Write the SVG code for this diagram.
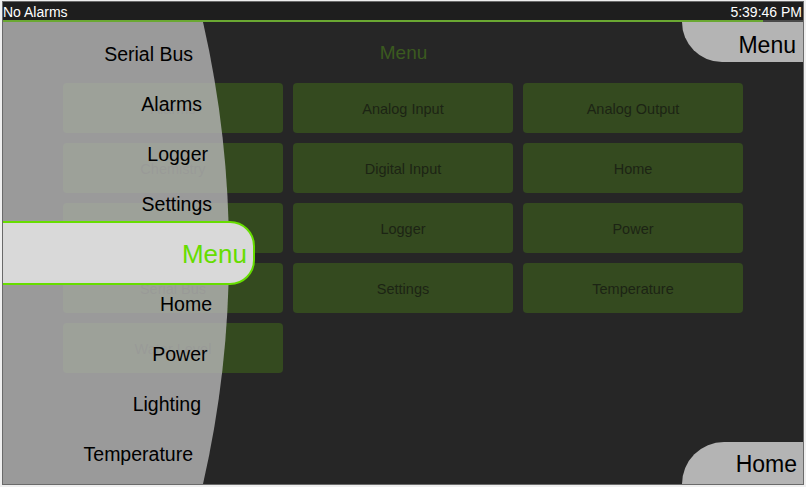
<svg xmlns="http://www.w3.org/2000/svg" width="806" height="487" viewBox="0 0 806 487">
<style>
.btn{fill:#344a1f}
.bl{font-family:"Liberation Sans",Arial,sans-serif;font-size:14.5px;fill:#1c2414;text-anchor:middle}
.item{font-family:"Liberation Sans",Arial,sans-serif;font-size:19.5px;fill:#000;text-anchor:end}
.bar{font-family:"Liberation Sans",Arial,sans-serif;font-size:14px;fill:#fff}
.tab{fill:#b4b4b4}
.tabt{font-family:"Liberation Sans",Arial,sans-serif;font-size:23px;fill:#000;text-anchor:end}
</style>
<rect x="0" y="0" width="806" height="487" fill="#efefef"/>
<rect x="2" y="1" width="802" height="484" fill="#6a6a6a"/>
<rect x="3" y="2" width="800" height="18" fill="#1e1e1e"/>
<rect x="3" y="20" width="760" height="2" fill="#6aa832"/>
<rect x="763" y="20" width="40" height="2" fill="#4a4a4a"/>
<rect x="3" y="22" width="800" height="462" fill="#262626"/>
<text class="bar" x="3" y="17">No Alarms</text>
<text class="bar" x="802" y="17" text-anchor="end">5:39:46 PM</text>
<text x="403.5" y="59" font-family="'Liberation Sans',Arial,sans-serif" font-size="19px" fill="#3b5a1f" text-anchor="middle">Menu</text>
<g id="buttons">
<g id="btn-alarms"><rect class="btn" x="63" y="83" width="220" height="50" rx="4"/><text class="bl" x="173" y="114">Alarms</text></g>
<g id="btn-analog-input"><rect class="btn" x="293" y="83" width="220" height="50" rx="4"/><text class="bl" x="403" y="114">Analog Input</text></g>
<g id="btn-analog-output"><rect class="btn" x="523" y="83" width="220" height="50" rx="4"/><text class="bl" x="633" y="114">Analog Output</text></g>
<g id="btn-chemistry"><rect class="btn" x="63" y="143" width="220" height="50" rx="4"/><text class="bl" x="173" y="174">Chemistry</text></g>
<g id="btn-digital-input"><rect class="btn" x="293" y="143" width="220" height="50" rx="4"/><text class="bl" x="403" y="174">Digital Input</text></g>
<g id="btn-home"><rect class="btn" x="523" y="143" width="220" height="50" rx="4"/><text class="bl" x="633" y="174">Home</text></g>
<g id="btn-r3c1"><rect class="btn" x="63" y="203" width="220" height="50" rx="4"/></g>
<g id="btn-logger"><rect class="btn" x="293" y="203" width="220" height="50" rx="4"/><text class="bl" x="403" y="234">Logger</text></g>
<g id="btn-power"><rect class="btn" x="523" y="203" width="220" height="50" rx="4"/><text class="bl" x="633" y="234">Power</text></g>
<g id="btn-serial-bus"><rect class="btn" x="63" y="263" width="220" height="50" rx="4"/><text class="bl" x="173" y="294">Serial Bus</text></g>
<g id="btn-settings"><rect class="btn" x="293" y="263" width="220" height="50" rx="4"/><text class="bl" x="403" y="294">Settings</text></g>
<g id="btn-temperature"><rect class="btn" x="523" y="263" width="220" height="50" rx="4"/><text class="bl" x="633" y="294">Temperature</text></g>
<g id="btn-water-level"><rect class="btn" x="63" y="323" width="220" height="50" rx="4"/><text class="bl" x="173" y="354">Water Level</text></g>
</g>
<g id="side-panel">
<path d="M3,22 H203 A1039,1039 0 0 1 203,484 H3 Z" fill="#b4b4b4" fill-opacity="0.82"/>
<text class="item" x="193" y="61">Serial Bus</text>
<text class="item" x="202" y="111">Alarms</text>
<text class="item" x="208" y="161">Logger</text>
<text class="item" x="212" y="211">Settings</text>
<text class="item" x="212" y="311">Home</text>
<text class="item" x="207.5" y="361">Power</text>
<text class="item" x="201" y="411">Lighting</text>
<text class="item" x="193" y="461">Temperature</text>
</g>
<g id="menu-selected">
<path d="M3,222 H230 A24,24 0 0 1 254,246 V260 A24,24 0 0 1 230,284 H3 Z" fill="#d9d9d9"/>
<path d="M3,222 H230 A24,24 0 0 1 254,246 V260 A24,24 0 0 1 230,284 H3" fill="none" stroke="#66dd00" stroke-width="2"/>
<text x="247" y="263" font-family="'Liberation Sans',Arial,sans-serif" font-size="26px" fill="#66dd00" text-anchor="end">Menu</text>
</g>
<g id="tab-menu">
<path class="tab" d="M682,22 H803 V62 H722 A40,40 0 0 1 682,22 Z"/>
<text class="tabt" x="796" y="53">Menu</text>
</g>
<g id="tab-home">
<path class="tab" d="M682,484 A42,42 0 0 1 724,442 H803 V484 Z"/>
<text class="tabt" x="797" y="472">Home</text>
</g>
<g id="connectors"></g>
</svg>
